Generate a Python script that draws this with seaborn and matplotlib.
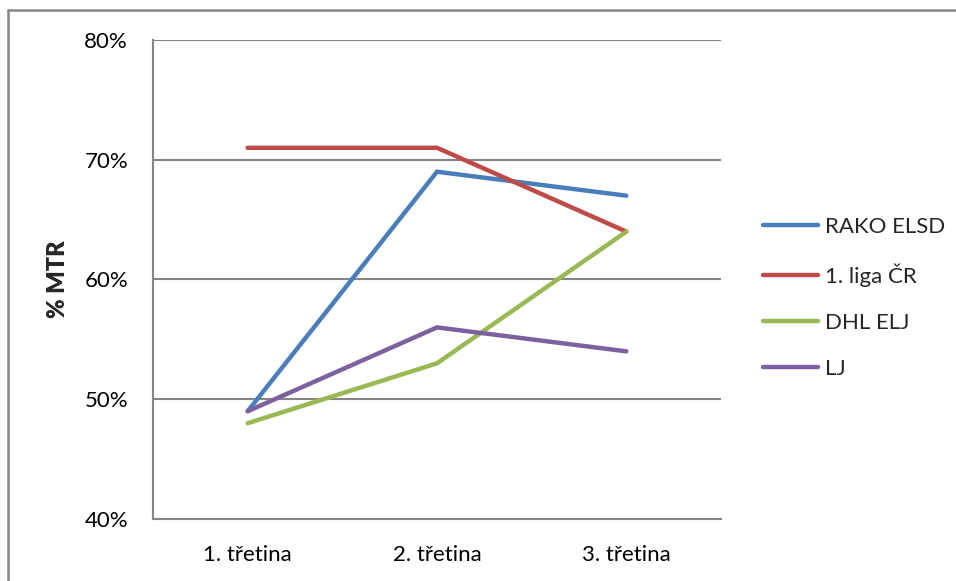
import matplotlib
matplotlib.use("Agg")
import matplotlib.pyplot as plt
from matplotlib.lines import Line2D
import seaborn as sns
import pandas as pd

categories = ["1. třetina", "2. třetina", "3. třetina"]
series_names = ["RAKO ELSD", "1. liga ČR", "DHL ELJ", "LJ"]
rako_elsd = [49, 69, 67]
liga_cr = [71, 71, 64]
dhl_elj = [48, 53, 64]
lj = [49, 56, 54]
y_ticks = [40, 50, 60, 70, 80]
y_tick_labels = ["40%", "50%", "60%", "70%", "80%"]
colors = ["#4A7EBB", "#BE4B48", "#98B954", "#7D60A0"]

rows = []
for name, vals in zip(series_names, [rako_elsd, liga_cr, dhl_elj, lj]):
    for i, v in enumerate(vals):
        rows.append({"pos": i, "value": v, "series": name})
df = pd.DataFrame(rows)

sns.set_style("white")
plt.rcParams["font.family"] = ["Lato", "DejaVu Sans"]

fig = plt.figure(figsize=(9.56, 5.81), dpi=100)
ax = fig.add_axes([153 / 956, 1 - 519 / 581, (721 - 153) / 956, (519 - 40) / 581])

sns.lineplot(data=df, x="pos", y="value", hue="series", hue_order=series_names,
             palette=colors, linewidth=3.2, sort=False, ax=ax, legend=False,
             solid_capstyle="round", solid_joinstyle="miter")

ax.set_xlim(-0.5, 2.5)
ax.set_ylim(40, 80)
ax.set_xticks(range(len(categories)))
ax.set_xticklabels(categories)
ax.set_yticks(y_ticks)
ax.set_yticklabels(y_tick_labels)
ax.tick_params(axis="both", length=0, labelsize=16, colors="black")
ax.tick_params(axis="x", pad=19)
ax.tick_params(axis="y", pad=18)
ax.yaxis.grid(True, color="#868686", linewidth=1.5)
ax.set_axisbelow(True)
for s in ["top", "right"]:
    ax.spines[s].set_visible(False)
for s in ["left", "bottom"]:
    ax.spines[s].set_color("#868686")
    ax.spines[s].set_linewidth(1.5)
ax.set_xlabel("")
ax.set_ylabel("% MTR", fontsize=17, fontweight="heavy")
ax.yaxis.set_label_coords(-0.148, 0.5)

handles = [Line2D([], [], color=c, linewidth=3.2, solid_capstyle="round") for c in colors]
fig.legend(handles, series_names, loc="upper left", bbox_to_anchor=(754 / 956, 1 - 208 / 581),
           frameon=False, fontsize=16, handlelength=2.5, handletextpad=0.3,
           labelspacing=1.18, borderaxespad=0)

# chart frame (top and left edges)
fig.add_artist(Line2D([8 / 956, 1.0], [1 - 10 / 581, 1 - 10 / 581], transform=fig.transFigure,
                      color="#868686", linewidth=1.8))
fig.add_artist(Line2D([8 / 956, 8 / 956], [0.0, 1 - 10 / 581], transform=fig.transFigure,
                      color="#868686", linewidth=1.8))

fig.savefig("out.png", dpi=100, facecolor="white")
